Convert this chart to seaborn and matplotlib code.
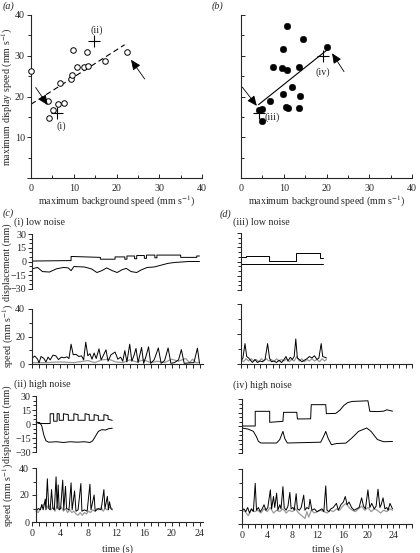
import matplotlib

matplotlib.use("Agg")
import matplotlib.pyplot as plt
import pandas as pd
import seaborn as sns

# ---- (a) / (b) scatter data ----
a_bg = [0, 3.9, 4.1, 5.1, 6.4, 7.7, 6.9, 9.3, 9.7, 9.8, 10.7, 12.3, 13.4, 13.2, 17.3, 22.5]
a_disp = [26.3, 19.0, 14.7, 16.7, 18.1, 18.3, 23.3, 24.3, 25.2, 31.4, 27.2, 27.3, 27.4, 31.0, 28.8, 30.8]
a_cross_bg = [6.0, 14.8]
a_cross_disp = [15.9, 33.5]
a_cross_names = ["(i)", "(ii)"]
a_fit_bg = [0, 21.9]
a_fit_disp = [18.1, 32.7]

b_bg = [10.7, 14.4, 9.8, 20.1, 7.4, 9.5, 10.8, 13.5, 12.0, 9.8, 13.9, 6.8, 10.5, 11.1, 13.5, 4.1, 4.8, 4.8]
b_disp = [37.3, 34.2, 31.6, 32.1, 27.2, 26.9, 26.6, 27.3, 22.4, 20.7, 20.2, 18.9, 17.4, 17.1, 17.1, 16.7, 17.0, 14.0]
b_cross_bg = [4.3, 19.1]
b_cross_disp = [16.0, 30.0]
b_cross_names = ["(iii)", "(iv)"]
b_fit_bg = [4.1, 20.1]
b_fit_disp = [18.0, 31.4]

# ---- (c)(i) low noise ----
c1_disp_up_t = [0, 5.6, 5.6, 9.8, 9.8, 11.9, 11.9, 13.3, 13.3, 13.6, 13.6, 14.7, 14.7, 15.0, 15.0,
                16.1, 16.1, 16.4, 16.4, 17.6, 17.6, 17.9, 17.9, 21.3, 21.3, 23.6, 23.6, 24.0]
c1_disp_up_v = [0.5, 1.0, 5.5, 4.5, 2.5, 2.5, 5.0, 5.0, 2.5, 2.5, 6.0, 6.0, 3.0, 3.0, 6.5,
                6.5, 3.5, 3.5, 7.0, 7.0, 4.0, 4.0, 7.0, 7.0, 4.5, 4.5, 6.0, 6.0]
c1_disp_lo_t = [0, 0.8, 1.5, 2.5, 3.5, 4.5, 5.2, 5.6, 6.0, 7.5, 8.5, 9.3, 10.0, 10.7, 11.5, 12.2, 12.9,
                13.5, 14.2, 15.0, 15.7, 16.5, 17.5, 18.5, 19.5, 20.5, 21.5, 22.5, 24.0]
c1_disp_lo_v = [-8, -6.5, -11, -11.5, -8, -6.5, -7, -10, -5.5, -6, -8, -12, -10, -7, -10, -12, -9,
                -7.5, -11, -12, -9, -6.5, -6, -4, -2, -1, -0.5, 0, 0]
c1_spd_blk_t = [0, 0.4, 0.8, 1.0, 1.3, 1.7, 2.0, 2.3, 2.6, 3.0, 3.4, 3.8, 4.2, 4.6, 5.0, 5.3, 5.6, 5.9,
                6.3, 6.7, 7.1, 7.4, 7.7, 8.0, 8.3, 8.6, 8.9, 9.2, 9.6, 9.9, 10.2, 10.6, 10.9, 11.3,
                11.9, 12.3, 12.7, 13.0, 13.3, 13.6, 14.0, 14.3, 14.6, 14.9, 15.2, 15.7, 16.0, 16.3,
                16.7, 17.0, 17.5, 18.1, 18.5, 19.0, 19.5, 19.9, 20.4, 21.0, 21.4, 21.8, 22.5, 23.2,
                23.7, 24.0]
c1_spd_blk_v = [4.2, 5.8, 3.5, 0.8, 5.5, 4.0, 1.5, 5.0, 3.0, 6.4, 6.0, 3.2, 5.0, 4.5, 5.2, 4.0, 14.4, 6.8,
                7.0, 5.5, 5.9, 3.0, 15.9, 6.0, 7.5, 3.5, 8.0, 4.0, 11.0, 3.0, 6.0, 10.3, 2.0, 6.6,
                8.7, 3.5, 5.0, 2.0, 9.7, 1.5, 14.4, 2.0, 6.0, 11.3, 1.0, 12.0, 0.5, 5.0,
                12.5, 0.5, 3.0, 11.7, 0.5, 2.5, 11.7, 0.5, 1.0, 3.0, 10.5, 0.5, 0.8, 1.0,
                11.5, 0.5]
c1_spd_gry_t = [0, 2, 4, 6, 8, 9, 10, 11, 12, 13, 14, 15, 16, 17, 18, 19, 20, 21, 22, 22.6, 23, 23.5, 24]
c1_spd_gry_v = [1, 1, 1.5, 1, 2.5, 1, 3, 3.5, 1.5, 1, 3, 1.5, 3, 1, 2, 1, 3.5, 2, 4, 1, 3.5, 1, 1]

# ---- (c)(ii) high noise ----
c2_disp_up_t = [0.6, 1.0, 2.6, 2.6, 3.1, 3.1, 3.6, 3.6, 3.9, 3.9, 4.5, 4.5, 5.2, 5.2, 6.0, 6.0,
                6.6, 6.6, 7.6, 7.6, 8.2, 8.2, 8.9, 8.9, 9.5, 9.5, 10.3, 10.3, 10.9, 10.9, 11.5]
c2_disp_up_v = [2, 0.5, 0.5, 11, 11, 3, 3, 11, 11, 4, 4, 11, 10, 4, 4, 11, 10, 4, 4, 11, 10,
                4, 4, 10, 9, 4, 4, 10, 9, 5, 4]
c2_disp_lo_t = [0.6, 1.1, 1.4, 1.7, 2.0, 2.4, 3.5, 4.5, 5.5, 6.5, 7.5, 8.3, 8.7, 9.1, 9.5, 10.0,
                10.5, 11.0, 11.5]
c2_disp_lo_v = [2, 1.5, -2, -12, -18, -19.5, -19, -19.8, -19, -19.5, -19, -19.8, -18, -13, -8, -6,
                -6.5, -5, -4.5]
c2_spd_blk_t = [0.6, 0.9, 1.2, 1.4, 1.6, 1.9, 2.0, 2.2, 2.4, 2.6, 2.8, 3.0, 3.2, 3.45, 3.6, 3.75,
                3.9, 4.1, 4.4, 4.55, 4.8, 4.95, 5.3, 5.6, 5.75, 6.1, 6.3, 6.6, 7.0, 7.15, 7.5,
                7.9, 8.3, 8.45, 8.9, 9.05, 9.5, 9.9, 10.3, 10.45, 10.8, 10.95, 11.1, 11.3, 11.5]
c2_spd_blk_v = [8, 10, 9, 13, 9, 17, 9, 32, 10, 9, 24, 10, 9, 33.5, 10, 27.5,
                9, 10, 31, 9, 26.5, 10, 9, 29, 9, 23, 8, 9, 28.5, 8, 9,
                8, 28, 9, 20, 8, 10, 9, 24, 10, 19, 9, 15, 10, 9]
c2_spd_gry_t = [0.6, 0.9, 1.2, 1.5, 1.8, 2.1, 2.4, 2.7, 3.0, 3.3, 3.6, 3.9, 4.2, 4.5, 4.8, 5.1,
                5.4, 5.7, 6.0, 6.3, 6.6, 6.9, 7.2, 7.5, 7.8, 8.1, 8.4, 8.7, 9.0, 9.3, 9.6, 9.9,
                10.2, 10.5, 10.8, 11.1, 11.5]
c2_spd_gry_v = [8, 7, 10, 12, 14, 10, 13, 9, 11, 8, 12, 9, 11, 8, 10, 7,
                9, 7, 8, 6, 5, 7, 5, 7, 6, 8, 7, 9, 8, 10, 9, 11,
                8, 10, 9, 11, 10]

# ---- (d)(iii) low noise ----
d3_disp_up_t = [0, 0.74, 0.74, 4.4, 4.4, 8.65, 8.65, 12.5, 12.5, 13.0]
d3_disp_up_v = [4.4, 4.4, 6.1, 6.1, 0.8, 0.8, 9.3, 9.3, 3.4, 3.4]
d3_disp_lo_t = [0, 13.0]
d3_disp_lo_v = [-2.6, -2.6]
d3_spd_blk_t = [0, 0.3, 0.63, 0.9, 1.2, 1.5, 1.8, 2.2, 2.6, 3.0, 3.4, 3.8, 4.2, 4.5, 4.8, 5.2, 5.6,
                6.0, 6.4, 6.8, 7.1, 7.4, 7.8, 8.1, 8.4, 8.65, 8.9, 9.2, 9.6, 10.0, 10.4, 10.8,
                11.2, 11.6, 12.0, 12.3, 12.66, 12.9, 13.2, 13.5]
d3_spd_blk_v = [2, 4, 13.6, 5, 4, 2.5, 1, 3, 1, 2, 1.5, 3, 13.6, 4, 1.5, 2, 1,
                2.5, 1, 3, 5, 2, 4.5, 3, 5, 16.7, 4, 3, 1.5, 2.5, 3.5, 5,
                4, 5.5, 3, 4, 13.6, 5, 4.5, 4]
d3_spd_gry_t = [0, 0.4, 0.8, 1.2, 1.6, 2.0, 2.4, 2.8, 3.2, 3.6, 4.0, 4.4, 4.8, 5.2, 5.6, 6.0, 6.4,
                6.8, 7.2, 7.6, 8.0, 8.4, 8.8, 9.2, 9.6, 10.0, 10.4, 10.8, 11.2, 11.6, 12.0, 12.4,
                12.8, 13.2, 13.5]
d3_spd_gry_v = [3, 1.5, 3.5, 2, 3.5, 2, 3, 1.5, 3.5, 2, 3.5, 2, 3, 1.5, 3.5, 2, 3,
                2, 3.5, 1.5, 3, 2, 5, 2, 3.5, 1.5, 3, 2, 3.5, 2, 3, 1.5,
                3.5, 2, 3]

# ---- (d)(iv) high noise ----
d4_disp_up_t = [0, 2.1, 2.1, 4.4, 4.4, 6.5, 6.6, 8.7, 8.8, 10.9, 11.0, 13.3, 13.4, 14.9, 15.6, 16.2,
                16.8, 17.5, 20.0, 20.3, 21.5, 22.5, 23.0, 23.9]
d4_disp_up_v = [0, 0, 16.3, 16.3, 4.1, 5.2, 15.2, 15.2, 7.8, 8.0, 23.7, 23.7, 13.7, 14.0, 18, 23,
                26, 27.3, 28, 16.3, 16, 16.5, 18, 16.5]
d4_disp_lo_t = [0, 1.0, 1.8, 2.3, 2.6, 3.0, 5.5, 6.0, 6.5, 6.8, 7.2, 12.5, 13.0, 13.3, 13.7, 14.2,
                15.0, 16.5, 17.5, 18.5, 19.8, 20.5, 21.5, 22.5, 23.9]
d4_disp_lo_v = [-2.2, -3.5, -5.9, -12, -17, -18.9, -18.9, -15, -6, -14, -18.9, -18, -11, -6, -14, -20.8,
                -19.5, -19, -13, -6, -2.2, -6, -15, -17.5, -17.2]
d4_spd_blk_t = [0, 0.3, 0.6, 0.9, 1.2, 1.5, 1.8, 2.1, 2.3, 2.6, 2.9, 3.2, 3.5, 3.8, 4.1, 4.5, 4.7, 5.0,
                5.2, 5.5, 5.7, 6.0, 6.2, 6.5, 6.7, 7.0, 7.3, 7.6, 7.8, 8.1, 8.3, 8.6, 8.8, 9.1, 9.4,
                9.8, 10.0, 10.3, 10.6, 10.8, 11.1, 11.5, 11.9, 12.3, 12.7, 13.0, 13.3, 13.5, 13.8,
                14.1, 14.5, 15.0, 15.3, 15.7, 16.1, 16.4, 16.7, 17.0, 17.4, 17.8, 18.2, 18.6, 19.0,
                19.3, 19.6, 20.0, 20.3, 20.6, 21.0, 21.3, 21.6, 21.9, 22.1, 22.4, 22.7, 23.0, 23.2,
                23.5, 23.9]
d4_spd_blk_v = [10, 11, 9, 12, 8, 11, 9, 29.6, 10, 12, 9, 11, 14, 10, 12, 24.8, 11, 20,
                12, 22.4, 10, 14, 11, 27.2, 12, 10, 13, 23, 11, 12, 10, 22, 11, 10, 12,
                21, 10, 12, 11, 18, 10, 11, 9, 10, 11, 9, 27.7, 10, 9,
                11, 12, 15, 10, 14, 16, 20, 14, 16, 12, 10, 11, 12, 19,
                13, 11, 24.8, 12, 15, 11, 13, 25.3, 12, 14, 19, 11, 12, 10,
                15, 11]
d4_spd_gry_t = [0, 0.5, 1.0, 1.5, 2.0, 2.5, 3.0, 3.5, 4.0, 4.5, 5.0, 5.5, 6.0, 6.5, 7.0, 7.5, 8.0,
                8.5, 9.0, 9.5, 10.0, 10.3, 10.6, 11.0, 11.5, 12.0, 12.5, 13.0, 13.5, 14.0, 14.5,
                15.0, 15.5, 16.0, 16.5, 17.0, 17.5, 18.0, 18.5, 19.0, 19.5, 20.0, 20.5, 21.0,
                21.5, 22.0, 22.5, 23.0, 23.5, 23.9]
d4_spd_gry_v = [10, 9, 6, 11, 9, 10, 8, 11, 9, 12, 8, 10, 9, 11, 8, 10, 9,
                11, 8, 6, 4, 9, 5, 10, 8, 9, 10, 9, 8, 10, 9,
                11, 10, 13, 15, 12, 10, 9, 11, 13, 10, 12, 9, 11,
                10, 8, 10, 9, 11, 10]

time_labels = [0, 4, 8, 12, 16, 20, 24]

W, H = 420, 553

sns.set_theme(style="ticks")
plt.rcParams["font.family"] = ["Liberation Serif", "DejaVu Serif"]
plt.rcParams["mathtext.fontset"] = "stix"
plt.rcParams["axes.linewidth"] = 0.8
for k in ["xtick.major.width", "ytick.major.width", "xtick.minor.width", "ytick.minor.width"]:
    plt.rcParams[k] = 0.7
FS = 7.2

fig = plt.figure(figsize=(W / 100, H / 100), dpi=100)


def px_axes(left, top, right, bottom):
    return fig.add_axes([left / W, 1 - bottom / H, (right - left) / W, (bottom - top) / H])


def style_scatter_axes(ax, show_ylab):
    sns.despine(ax=ax)
    ax.set_xlim(0, 40)
    ax.set_ylim(0, 40)
    ax.set_xticks([0, 10, 20, 30, 40])
    ax.set_xticks([5, 15, 25, 35], minor=True)
    ax.set_yticks([0, 10, 20, 30, 40])
    ax.set_yticks([5, 15, 25, 35], minor=True)
    ax.set_yticklabels(["", "10", "20", "30", "40"] if show_ylab else [])
    ax.tick_params(axis="x", which="both", direction="in", labelsize=FS, pad=4)
    ax.tick_params(axis="x", which="major", length=3)
    ax.tick_params(axis="x", which="minor", length=2)
    ax.tick_params(axis="y", which="both", direction="out" if show_ylab else "in", labelsize=FS, pad=1.5)
    ax.tick_params(axis="y", which="major", length=3)
    ax.tick_params(axis="y", which="minor", length=2)
    ax.set_xlabel("maximum background speed (mm s$^{-1}$)", fontsize=FS, labelpad=1)
    ax.set_ylabel("")


def arrow(ax, tail, head):
    ax.annotate("", xy=head, xytext=tail,
                arrowprops=dict(arrowstyle="-|>,head_length=0.5,head_width=0.22", color="black", lw=0.6,
                                shrinkA=0, shrinkB=0))


# (a)
ax_a = px_axes(31, 15, 202, 178)
sns.scatterplot(x=a_bg, y=a_disp, ax=ax_a, marker="o", s=16, facecolor="white", edgecolor="black",
                linewidth=0.7, zorder=3, clip_on=False)
sns.lineplot(x=a_fit_bg, y=a_fit_disp, ax=ax_a, color="black", lw=0.8, linestyle=(0, (5, 3)))
sns.scatterplot(x=a_cross_bg, y=a_cross_disp, ax=ax_a, marker="+", s=70, color="black", linewidth=0.8,
                zorder=4)
style_scatter_axes(ax_a, True)
ax_a.text(7.2, 12.8, a_cross_names[0], fontsize=FS, ha="center", va="center")
ax_a.text(15.4, 36.2, a_cross_names[1], fontsize=FS, ha="center", va="center")
arrow(ax_a, (1.1, 22.2), (3.9, 17.9))
arrow(ax_a, (26.6, 24.3), (23.4, 29.0))
fig.text(7 / W, 1 - 97 / H, "maximum display speed (mm s$^{-1}$)", rotation=90, ha="center", va="center",
         fontsize=FS)
fig.text(3 / W, 1 - 6 / H, "(a)", fontsize=FS, style="italic", va="center")

# (b)
ax_b = px_axes(241, 15, 412, 178)
sns.scatterplot(x=b_bg, y=b_disp, ax=ax_b, marker="o", s=22, color="black", edgecolor="black", zorder=3)
sns.lineplot(x=b_fit_bg, y=b_fit_disp, ax=ax_b, color="black", lw=0.8)
sns.scatterplot(x=b_cross_bg, y=b_cross_disp, ax=ax_b, marker="+", s=70, color="black", linewidth=0.8,
                zorder=4)
style_scatter_axes(ax_b, False)
ax_b.text(7.2, 14.9, b_cross_names[0], fontsize=FS, ha="center", va="center")
ax_b.text(19.1, 25.9, b_cross_names[1], fontsize=FS, ha="center", va="center")
arrow(ax_b, (0.3, 22.3), (3.7, 17.7))
arrow(ax_b, (24.1, 26.1), (21.3, 30.6))
fig.text(212 / W, 1 - 6 / H, "(b)", fontsize=FS, style="italic", va="center")


def trace(ax, t, v, color="black", lw=0.7):
    df = pd.DataFrame({"t": t, "v": v})
    sns.lineplot(data=df, x="t", y="v", ax=ax, color=color, lw=lw, sort=False, estimator=None)


def style_disp(ax, xmax, labels, spine_at=None):
    ax.set_xlim(0, xmax)
    ax.set_ylim(-30, 30)
    for s in ["top", "right", "bottom"]:
        ax.spines[s].set_visible(False)
    if spine_at is not None:
        ax.spines["left"].set_position(("data", spine_at))
    ax.set_xticks([])
    ax.set_yticks([-30, -15, 0, 15, 30])
    ax.set_yticks(range(-25, 30, 5), minor=True)
    ax.set_yticklabels(["\u221230", "\u221215", "0", "15", "30"] if labels else [])
    ax.tick_params(axis="y", which="both", direction="out", labelsize=FS, pad=1)
    ax.tick_params(axis="y", which="major", length=3)
    ax.tick_params(axis="y", which="minor", length=2)
    ax.set_xlabel("")
    ax.set_ylabel("")


def style_speed(ax, xmax, labels, timelab, spine_at=None):
    ax.set_xlim(0, xmax)
    ax.set_ylim(0, 40)
    sns.despine(ax=ax)
    if spine_at is not None:
        ax.spines["left"].set_position(("data", spine_at))
    ax.set_yticks([0, 20, 40])
    ax.set_yticks([10, 30], minor=True)
    ax.set_yticklabels(["0", "20", "40"] if labels else [])
    ticks = list(range(0, int(xmax) + 1))
    ax.set_xticks(ticks)
    if timelab:
        ax.set_xticklabels([str(k) if k in time_labels else "" for k in ticks])
    else:
        ax.set_xticklabels([])
    ax.tick_params(axis="both", which="both", direction="out", labelsize=FS, pad=2)
    ax.tick_params(axis="both", which="major", length=3)
    ax.tick_params(axis="y", which="minor", length=2)
    ax.set_xlabel("")
    ax.set_ylabel("")


# (c)(i)
fig.text(3 / W, 1 - 213 / H, "(c)", fontsize=FS, style="italic", va="center")
fig.text(14 / W, 1 - 222 / H, "(i) low noise", fontsize=FS, va="center")
ax = px_axes(32, 234, 203, 289)
trace(ax, c1_disp_up_t, c1_disp_up_v)
trace(ax, c1_disp_lo_t, c1_disp_lo_v)
style_disp(ax, 24.5, True)
ax = px_axes(32, 309, 203, 364)
trace(ax, c1_spd_gry_t, c1_spd_gry_v, color="#9a9a9a", lw=0.9)
trace(ax, c1_spd_blk_t, c1_spd_blk_v)
style_speed(ax, 24.5, True, False)
fig.text(7 / W, 1 - 262 / H, "displacement (mm)", rotation=90, ha="center", va="center", fontsize=FS)
fig.text(8 / W, 1 - 336 / H, "speed (mm s$^{-1}$)", rotation=90, ha="center", va="center", fontsize=FS)

# (c)(ii)
fig.text(14 / W, 1 - 384 / H, "(ii) high noise", fontsize=FS, va="center")
ax = px_axes(32, 396, 203, 452)
trace(ax, c2_disp_up_t, c2_disp_up_v)
trace(ax, c2_disp_lo_t, c2_disp_lo_v)
style_disp(ax, 24.5, True, spine_at=0.6)
ax = px_axes(32, 468, 203, 522)
trace(ax, c2_spd_gry_t, c2_spd_gry_v, color="#9a9a9a", lw=0.9)
trace(ax, c2_spd_blk_t, c2_spd_blk_v)
style_speed(ax, 24.5, True, True, spine_at=0.6)
fig.text(7 / W, 1 - 424 / H, "displacement (mm)", rotation=90, ha="center", va="center", fontsize=FS)
fig.text(8 / W, 1 - 495 / H, "speed (mm s$^{-1}$)", rotation=90, ha="center", va="center", fontsize=FS)
fig.text(117 / W, 1 - 549 / H, "time (s)", ha="center", va="center", fontsize=FS)

# (d)(iii)
fig.text(220 / W, 1 - 214 / H, "(d)", fontsize=FS, style="italic", va="center")
fig.text(233 / W, 1 - 222 / H, "(iii) low noise", fontsize=FS, va="center")
ax = px_axes(241, 233, 412, 290)
trace(ax, d3_disp_up_t, d3_disp_up_v)
trace(ax, d3_disp_lo_t, d3_disp_lo_v)
style_disp(ax, 27, False)
ax = px_axes(241, 304, 412, 364)
trace(ax, d3_spd_gry_t, d3_spd_gry_v, color="#9a9a9a", lw=0.9)
trace(ax, d3_spd_blk_t, d3_spd_blk_v)
style_speed(ax, 27, False, False)

# (d)(iv)
fig.text(233 / W, 1 - 385 / H, "(iv) high noise", fontsize=FS, va="center")
ax = px_axes(242, 399, 412, 453)
trace(ax, d4_disp_up_t, d4_disp_up_v)
trace(ax, d4_disp_lo_t, d4_disp_lo_v)
style_disp(ax, 27, False)
ax = px_axes(242, 469, 412, 524)
trace(ax, d4_spd_gry_t, d4_spd_gry_v, color="#9a9a9a", lw=0.9)
trace(ax, d4_spd_blk_t, d4_spd_blk_v)
style_speed(ax, 27, False, True)
fig.text(327 / W, 1 - 549 / H, "time (s)", ha="center", va="center", fontsize=FS)

fig.savefig("out.png", dpi=100)
